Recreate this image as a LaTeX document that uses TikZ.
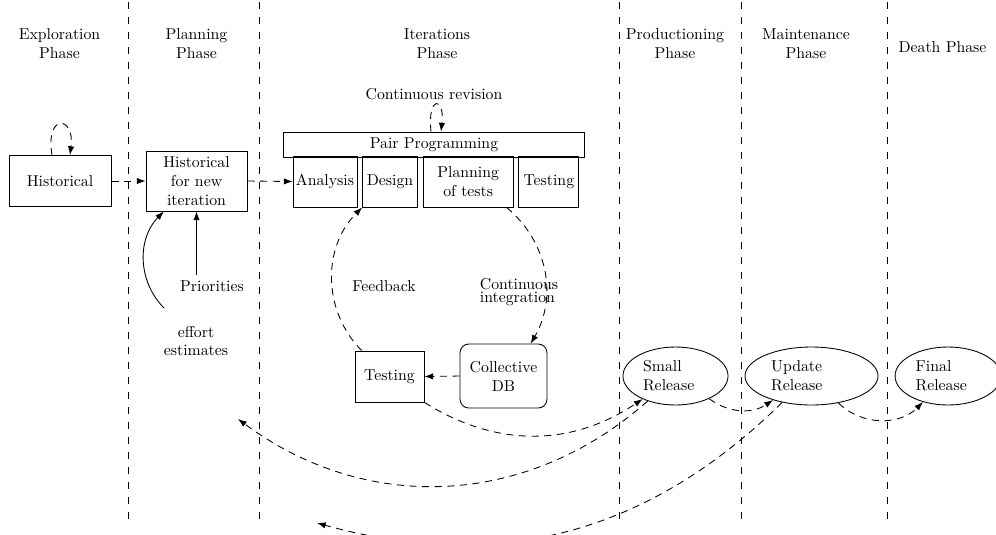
\documentclass[tikz,border=0pt]{standalone}
\usepackage{tikz}
\usetikzlibrary{positioning, arrows.meta, shapes.geometric, calc}
\tikzset{
    phasetitle/.style={align=center, inner sep=1pt},
    phaseline/.style={dash pattern=on 4.5pt off 5pt},
    box/.style={draw, align=center, inner sep=1pt, minimum height=32.3pt},
    release/.style={draw, ellipse, align=left, inner sep=0pt, minimum height=36.7pt},
    flow/.style={dash pattern=on 4.5pt off 3.5pt, -{Latex[length=5.5pt, width=4pt]}},
    feed/.style={-{Latex[length=5.5pt, width=4pt]}}
}

\begin{document}
\begin{tikzpicture}[x=0.633pt, y=-0.633pt, line width=0.55pt]
    \useasboundingbox (0,0) rectangle (996,534);
    \foreach \x in {128,259,619,741,887}
    {
        \draw[phaseline] (\x,2) -- (\x,524);
    }
    \node[phasetitle] (expl) at (59.5,44) {Exploration\\Phase};
    \node[phasetitle] (plng) at (196.5,44) {Planning\\Phase};
    \node[phasetitle] (iter) at (437,44) {Iterations\\Phase};
    \node[phasetitle] (prod) at (675,44) {Productioning\\Phase};
    \node[phasetitle] (mnt) at (806,44) {Maintenance\\Phase};
    \node[phasetitle] (death) at (942.5,47) {Death Phase};

    \node[box, minimum width=64.6pt] (hist) at (60,181) {Historical};
    \node[box, minimum width=64pt, minimum height=38pt] (hnew) at (196.5,181) {Historical\\for new\\iteration};
    \node (prio) at (212,286) {Priorities};
    \node[align=center] (effort) at (196,341) {effort\\estimates};

    \node[box, minimum width=191pt, minimum height=15.8pt] (pp) at (434,144.5) {Pair Programming};
    \node (crev) at (434,94) {Continuous revision};
    \node[box, minimum width=40.5pt] (ana) at (325,181.5) {Analysis};
    \node[box, minimum width=34.8pt, right=3pt of ana] (des) {Design};
    \node[box, minimum width=57pt, right=3pt of des] (plan) {Planning\\of tests};
    \node[box, minimum width=38pt, right=3pt of plan] (tst) {Testing};

    \node[box, minimum width=43.7pt] (tst2) at (389.5,376.5) {Testing};
    \node[box, rounded corners=5.5pt, minimum width=55pt, minimum height=40.5pt] (db) at (503.5,376) {Collective\\DB};
    \node (fb) at (384,286) {Feedback};
    \node[align=left] (cint) at (519,292) {Continuous\\[-4pt]integration};

    \node[release, minimum width=66.5pt, text width=41pt] (small) at (675.5,376) {Small\\Release};
    \node[release, minimum width=84.2pt, text width=51pt] (upd) at (811.5,376) {Update\\Release};
    \node[release, minimum width=67pt, text width=41pt] (fin) at (948,376) {Final\\Release};

    \coordinate (back1) at (238,419);
    \coordinate (back2) at (317,523);

    \draw[flow] ($(hist.north)+(-8,0)$) .. controls +(-7,-42) and +(5,-40) .. ($(hist.north)+(10,0)$);
    \draw[flow] (hist.east) -- (hnew.west);
    \draw[flow] (hnew.east) -- (ana.west);
    \draw[feed] (prio.north -| hnew.south) -- (hnew.south);
    \draw[feed] ($(effort.north west)+(6,-12)$) to[bend left=45] (hnew.-137);
    \draw[flow] ($(pp.north)+(-3,0)$) .. controls +(-4,-36) and +(4,-36) .. ($(pp.north)+(7,0)$);
    \draw[flow] (plan.-34) to[bend left=40] (db.50);
    \draw[flow] (db.west) -- (tst2.east);
    \draw[flow] (tst2.137) to[bend left=45] (des.south west);
    \draw[flow] (tst2.south east) to[bend right=33] (small.215);
    \draw[flow] (small.222) to[bend left=39] (back1);
    \draw[flow] (upd.222) to[bend left=30] (back2);
    \draw[flow] (small.-34) to[bend right=35] (upd.212);
    \draw[flow] (upd.-45) to[bend right=45] (fin.226);
\end{tikzpicture}
\end{document}
